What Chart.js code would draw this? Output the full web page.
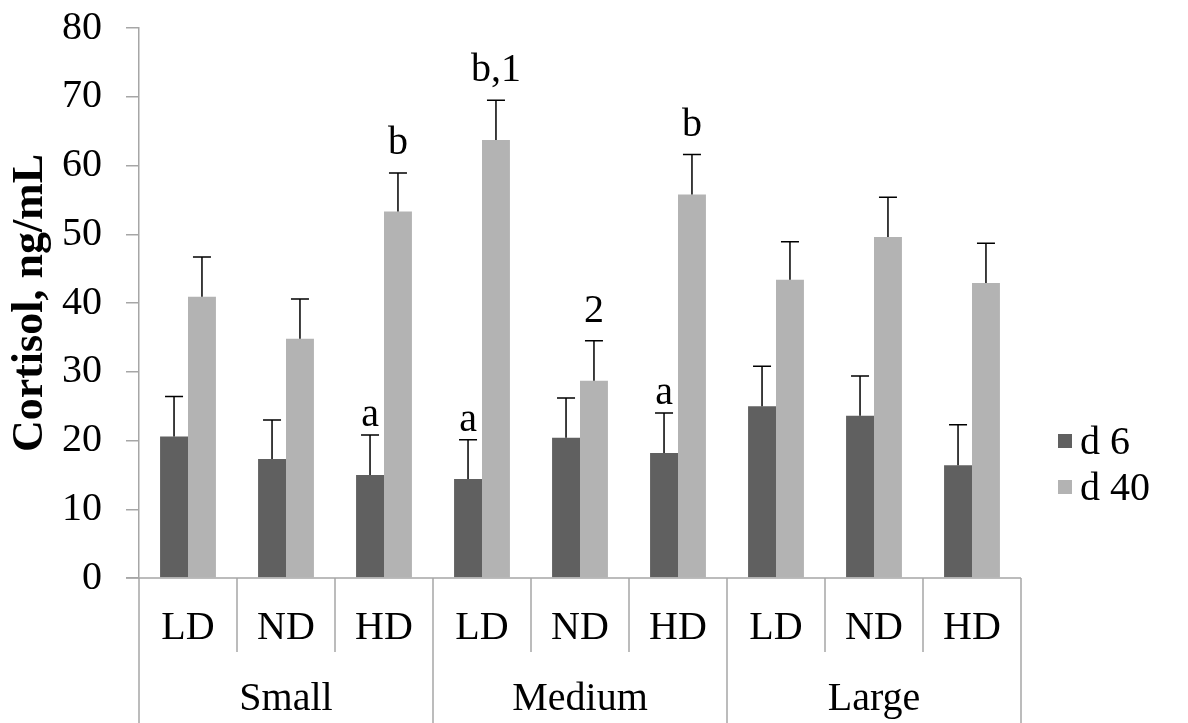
<!DOCTYPE html>
<html>
<head>
<meta charset="utf-8">
<script src="https://cdn.jsdelivr.net/npm/chart.js@4.4.1/dist/chart.umd.min.js"></script>
<style>
  html, body { margin: 0; padding: 0; background: #fff; }
  #wrap { width: 1188px; height: 723px; position: relative; }
</style>
</head>
<body>
<div id="wrap"><canvas id="cortisol-chart"></canvas></div>
<script>
// Cortisol by group size and stocking density

const categories = ['LD', 'ND', 'HD', 'LD', 'ND', 'HD', 'LD', 'ND', 'HD'];
const groups = ['Small', 'Medium', 'Large'];
const seriesNames = ['d 6', 'd 40'];

const d6Values = [20.6, 17.3, 15.0, 14.4, 20.4, 18.2, 25.0, 23.6, 16.4];
const d40Values = [40.9, 34.8, 53.3, 63.7, 28.7, 55.8, 43.4, 49.6, 42.9];
const d6Errors = [5.8, 5.7, 5.8, 5.7, 5.8, 5.8, 5.8, 5.8, 5.9];
const d40Errors = [5.8, 5.8, 5.6, 5.8, 5.8, 5.8, 5.5, 5.8, 5.8];

const d6Marks = ['', '', 'a', 'a', '', 'a', '', '', ''];
const d40Marks = ['', '', 'b', 'b,1', '2', 'b', '', '', ''];

const yTicks = [0, 10, 20, 30, 40, 50, 60, 70, 80];

const FONT = "'Liberation Serif', 'Times New Roman', serif";
const AXIS_GRAY = '#a6a6a6';

// error bars, letters, category table and legend
const extrasPlugin = {
    id: 'extras',
    afterDatasetsDraw(chart) {
        const ctx = chart.ctx;
        const y = chart.scales.y;
        const errs = [d6Errors, d40Errors];
        const marks = [d6Marks, d40Marks];

        ctx.save();
        chart.data.datasets.forEach((ds, di) => {
            const meta = chart.getDatasetMeta(di);
            meta.data.forEach((bar, i) => {
                const top = y.getPixelForValue(ds.data[i]);
                const capY = y.getPixelForValue(ds.data[i] + errs[di][i]);
                ctx.strokeStyle = '#000';
                ctx.lineWidth = 1.5;
                ctx.beginPath();
                ctx.moveTo(bar.x, top);
                ctx.lineTo(bar.x, capY);
                ctx.moveTo(bar.x - 9, capY);
                ctx.lineTo(bar.x + 9, capY);
                ctx.stroke();

                const m = marks[di][i];
                if (m) {
                    ctx.fillStyle = '#000';
                    ctx.font = `40px ${FONT}`;
                    ctx.textAlign = 'center';
                    ctx.textBaseline = 'alphabetic';
                    ctx.fillText(m, bar.x, capY - (m === 'a' ? 9 : 19));
                }
            });
        });
        ctx.restore();
    },
    afterDraw(chart) {
        const ctx = chart.ctx;
        const area = chart.chartArea;
        const x = chart.scales.x;
        const step = (area.right - area.left) / categories.length;
        const base = chart.scales.y.getPixelForValue(0);

        ctx.save();
        // x axis line
        ctx.strokeStyle = AXIS_GRAY;
        ctx.lineWidth = 1.5;
        ctx.beginPath();
        ctx.moveTo(area.left - 13, base);
        ctx.lineTo(area.right, base);
        ctx.stroke();

        // table separators
        for (let i = 0; i <= categories.length; i++) {
            const px = area.left + i * step;
            const isGroupEdge = i % 3 === 0;
            ctx.beginPath();
            ctx.moveTo(px, base);
            ctx.lineTo(px, isGroupEdge ? 723 : 652);
            ctx.stroke();
        }

        // labels
        ctx.fillStyle = '#000';
        ctx.font = `40px ${FONT}`;
        ctx.textAlign = 'center';
        ctx.textBaseline = 'alphabetic';
        categories.forEach((c, i) => {
            ctx.fillText(c, x.getPixelForValue(i), 639);
        });
        groups.forEach((g, gi) => {
            const cx = (x.getPixelForValue(gi * 3) + x.getPixelForValue(gi * 3 + 2)) / 2;
            ctx.fillText(g, cx, 710);
        });

        // legend
        ctx.textAlign = 'left';
        ctx.textBaseline = 'middle';
        chart.data.datasets.forEach((ds, di) => {
            const ly = 441 + di * 46;
            ctx.fillStyle = ds.backgroundColor;
            ctx.fillRect(1058, ly - 7, 14, 14);
            ctx.fillStyle = '#000';
            ctx.fillText(ds.label, 1080, ly + 2);
        });
        ctx.restore();
    }
};

const ctx = document.getElementById('cortisol-chart');
new Chart(ctx, {
    type: 'bar',
    data: {
        labels: categories,
        datasets: [
            {
                label: seriesNames[0],
                data: d6Values,
                backgroundColor: '#606060',
                categoryPercentage: 0.57,
                barPercentage: 1.0
            },
            {
                label: seriesNames[1],
                data: d40Values,
                backgroundColor: '#b3b3b3',
                categoryPercentage: 0.57,
                barPercentage: 1.0
            }
        ]
    },
    options: {
        responsive: true,
        maintainAspectRatio: false,
        animation: false,
        layout: {
            padding: { top: 28, right: 167, bottom: 145, left: 0 }
        },
        plugins: {
            legend: { display: false },
            tooltip: { enabled: false }
        },
        scales: {
            x: {
                display: false
            },
            y: {
                min: 0,
                max: 80,
                afterBuildTicks: (scale) => {
                    scale.ticks = yTicks.map(v => ({ value: v }));
                },
                afterFit: (scale) => {
                    scale.width = 139;
                    scale.paddingTop = 0;
                    scale.paddingBottom = 0;
                },
                grid: {
                    drawOnChartArea: false,
                    drawTicks: true,
                    tickLength: 13,
                    color: AXIS_GRAY,
                    lineWidth: 1.5
                },
                border: { display: true, color: AXIS_GRAY, width: 1.5 },
                ticks: {
                    color: '#000',
                    padding: 24,
                    font: { family: FONT, size: 40 }
                },
                title: {
                    display: true,
                    text: 'Cortisol, ng/mL',
                    color: '#000',
                    padding: { top: 4, bottom: 0 },
                    font: { family: FONT, size: 44, weight: 'bold' }
                }
            }
        }
    },
    plugins: [extrasPlugin]
});
</script>
</body>
</html>
